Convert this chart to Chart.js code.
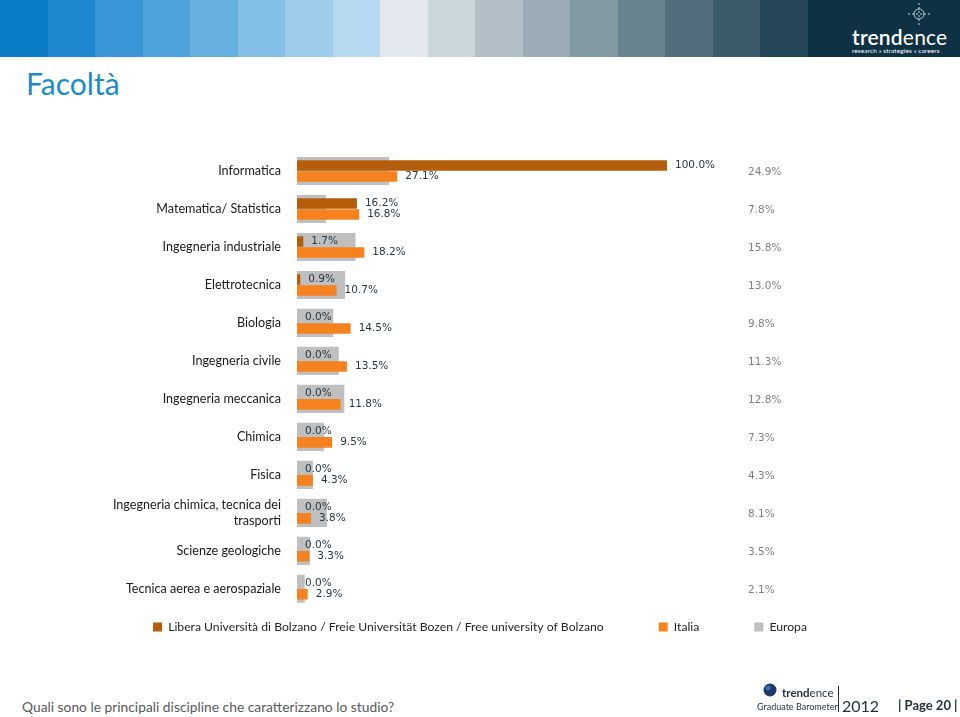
<!DOCTYPE html>
<html>
<head>
<meta charset="utf-8">
<title>Facoltà</title>
<script src="https://cdn.jsdelivr.net/npm/chart.js@4.4.0/dist/chart.umd.min.js"></script>
<style>
  body { margin: 0; width: 960px; height: 717px; position: relative; overflow: hidden; background: #fff; font-family: Lato, "Open Sans", sans-serif; }
  #header { position: absolute; left: 0; top: 0; width: 960px; height: 57px; }
  #header .stripe { position: absolute; top: 0; height: 57px; }
  #logo { position: absolute; left: 852px; top: 24px; color: #fff; }
  #logo .name { font-size: 21px; letter-spacing: 0.2px; }
  #logo .tag { font-size: 6.5px; margin-top: -2px; letter-spacing: 0.1px; }
  #title { position: absolute; left: 26px; top: 65px; font-size: 30px; color: #1b8dc6; }
  #wrap { position: absolute; left: 0; top: 121.5px; width: 960px; height: 563px; }
  #question { position: absolute; left: 22px; top: 698px; font-size: 13.8px; color: #595959; }
  #flogo { position: absolute; left: 757px; top: 681px; width: 200px; height: 36px; color: #1f2f3d; }
  #page { position: absolute; left: 898px; top: 697px; font-size: 13px; font-weight: bold; color: #1f2f3d; }
</style>
</head>
<body>
<div id="header"></div>
<div id="logo">
  <svg width="30" height="24" style="position:absolute;left:52px;top:-22px" viewBox="0 0 30 24">
    <circle cx="15" cy="12" r="5" fill="none" stroke="#c8d3da" stroke-width="1"/>
    <line x1="15" y1="1" x2="15" y2="23" stroke="#c8d3da" stroke-width="1" stroke-dasharray="2,2"/>
    <line x1="4" y1="12" x2="26" y2="12" stroke="#c8d3da" stroke-width="1" stroke-dasharray="2,2"/>
  </svg>
  <div class="name"><b style="font-weight:600">trend</b>ence</div>
  <div class="tag">research » strategies » careers</div>
</div>
<div id="title">Facoltà</div>
<div id="wrap"><canvas id="myChart"></canvas></div>
<div id="question">Quali sono le principali discipline che caratterizzano lo studio?</div>
<div id="flogo">
  <svg width="16" height="16" style="position:absolute;left:5px;top:1px" viewBox="0 0 16 16">
    <circle cx="8" cy="8" r="6.5" fill="#1d3a6e"/>
    <circle cx="6" cy="6" r="2.5" fill="#5a7cb8" opacity="0.7"/>
  </svg>
  <div style="position:absolute;left:25px;top:5px;font-size:11.5px"><b>trend</b>ence</div>
  <div style="position:absolute;left:0;top:20px;font-size:9px">Graduate Barometer</div>
  <div style="position:absolute;left:81px;top:5px;width:1px;height:26px;background:#1f2f3d"></div>
  <div style="position:absolute;left:85px;top:15px;font-size:16px">2012</div>
</div>
<div id="page">| Page 20 |</div>

<script>
// header colour stripes, light blue to dark navy
const stripeColors = ['#0a7bc6', '#1e88d0', '#3895d6', '#4ea3db', '#66b0e0', '#84c0e6', '#9ecceb', '#b8daf0',
  '#e3e9ee', '#cad5dc', '#b2bfc7', '#9aabb5', '#8399a4', '#6a8390', '#526e7d', '#3b5a6a', '#244657'];
let header = document.getElementById('header');
stripeColors.forEach((c, i) => {
  let d = document.createElement('div');
  d.className = 'stripe';
  d.style.left = (i * 47.5) + 'px';
  d.style.width = '48px';
  d.style.background = c;
  header.appendChild(d);
});
let last = document.createElement('div');
last.className = 'stripe';
last.style.left = (stripeColors.length * 47.5) + 'px';
last.style.width = '160px';
last.style.background = '#0e3144';
header.appendChild(last);

// chart data
const categories = [
  'Informatica',
  'Matematica/ Statistica',
  'Ingegneria industriale',
  'Elettrotecnica',
  'Biologia',
  'Ingegneria civile',
  'Ingegneria meccanica',
  'Chimica',
  'Fisica',
  ['Ingegneria chimica, tecnica dei', 'trasporti'],
  'Scienze geologiche',
  'Tecnica aerea e aerospaziale'
];
const bolzano = [100.0, 16.2, 1.7, 0.9, 0.0, 0.0, 0.0, 0.0, 0.0, 0.0, 0.0, 0.0];
const italia = [27.1, 16.8, 18.2, 10.7, 14.5, 13.5, 11.8, 9.5, 4.3, 3.8, 3.3, 2.9];
const europa = [24.9, 7.8, 15.8, 13.0, 9.8, 11.3, 12.8, 7.3, 4.3, 8.1, 3.5, 2.1];
const seriesNames = ['Libera Università di Bolzano / Freie Universität Bozen / Free university of Bolzano', 'Italia', 'Europa'];

function pct(v) {
  return v.toFixed(1) + '%';
}

// writes the value next to each brown / orange bar, and the Europa values in a column on the right
const valueLabels = {
  id: 'valueLabels',
  afterDatasetsDraw(chart) {
    let ctx = chart.ctx;
    ctx.save();
    ctx.font = '10.5px "DejaVu Sans"';
    ctx.textAlign = 'left';
    ctx.textBaseline = 'middle';
    ctx.fillStyle = '#243847';
    [0, 1].forEach(di => {
      let meta = chart.getDatasetMeta(di);
      meta.data.forEach((bar, i) => {
        ctx.fillText(pct(chart.data.datasets[di].data[i]), bar.x + 8, bar.y);
      });
    });
    ctx.fillStyle = '#7f7f7f';
    chart.getDatasetMeta(2).data.forEach((bar, i) => {
      ctx.fillText(pct(chart.data.datasets[2].data[i]), chart.chartArea.right + 81, bar.y + 1);
    });
    ctx.restore();
  }
};

// legend padding is also the gap between items, so pull the row back up under the bars
const legendShift = {
  id: 'legendShift',
  afterLayout(chart) {
    let lg = chart.legend;
    let up = lg.options.labels.padding - 13;
    lg.top -= up;
    lg.bottom -= up;
  }
};

let ctx = document.getElementById('myChart').getContext('2d');
let myChart = new Chart(ctx, {
  type: 'bar',
  data: {
    labels: categories,
    datasets: [{
      label: seriesNames[0],
      data: bolzano,
      backgroundColor: '#b45e0b',
      categoryPercentage: 0.58,
      barPercentage: 0.96
    }, {
      label: seriesNames[1],
      data: italia,
      backgroundColor: '#f5821f',
      categoryPercentage: 0.58,
      barPercentage: 0.96
    }, {
      label: seriesNames[2],
      data: europa,
      backgroundColor: '#bfbfbf',
      grouped: false,
      order: 2,
      categoryPercentage: 0.74,
      barPercentage: 1.0
    }]
  },
  options: {
    indexAxis: 'y',
    responsive: true,
    maintainAspectRatio: false,
    animation: false,
    layout: { padding: { top: 30, bottom: 0, left: 0, right: 0 } },
    scales: {
      x: { display: false, min: 0, max: 100 },
      y: {
        grid: { display: false, drawTicks: false },
        border: { display: false },
        ticks: {
          autoSkip: false,
          color: '#1a1a1a',
          font: { family: 'Lato', size: 12.6, lineHeight: 1.3 },
          padding: 16
        },
        afterFit(axis) { axis.width = 297; }
      },
      // empty axis that keeps room on the right for the Europa column
      yEU: {
        type: 'category',
        position: 'right',
        grid: { display: false, drawTicks: false },
        border: { display: false },
        ticks: { display: false },
        afterFit(axis) { axis.width = 960 - 667; }
      }
    },
    plugins: {
      tooltip: { enabled: false },
      legend: {
        position: 'bottom',
        labels: {
          boxWidth: 9,
          boxHeight: 9,
          padding: 55,
          color: '#262626',
          font: { family: 'Lato', size: 12.2 }
        }
      }
    }
  },
  plugins: [valueLabels, legendShift]
});
</script>
</body>
</html>
